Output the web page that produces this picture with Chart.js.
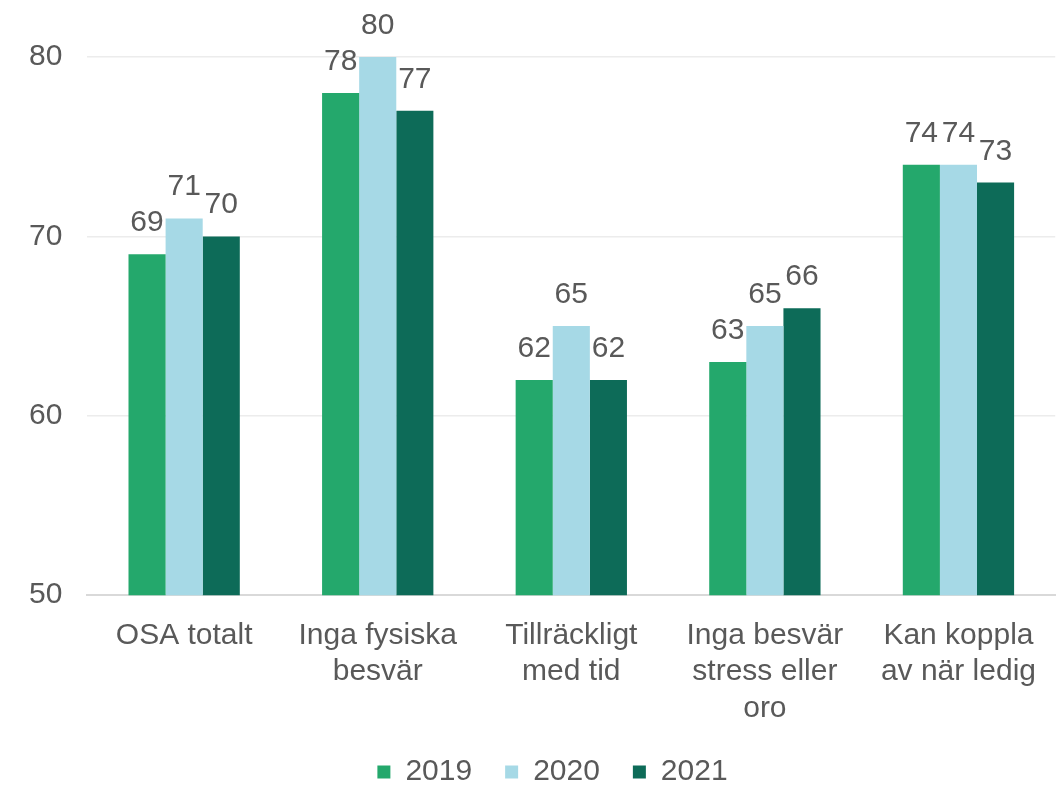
<!DOCTYPE html>
<html>
<head>
<meta charset="utf-8">
<script src="https://cdn.jsdelivr.net/npm/chart.js@4.4.1/dist/chart.umd.min.js"></script>
<style>
  html, body { margin: 0; padding: 0; background: #ffffff; }
  #wrap { width: 1058px; height: 787px; position: relative; }
</style>
</head>
<body>
<div id="wrap"><canvas id="c"></canvas></div>
<script>
const categories = [
  ["OSA totalt"],
  ["Inga fysiska", "besvär"],
  ["Tillräckligt", "med tid"],
  ["Inga besvär", "stress eller", "oro"],
  ["Kan koppla", "av när ledig"]
];
const seriesNames = ["2019", "2020", "2021"];
const values2019 = [69, 78, 62, 63, 74];
const values2020 = [71, 80, 65, 65, 74];
const values2021 = [70, 77, 62, 66, 73];
const yTicks = [50, 60, 70, 80];
const colors = ["#24a86c", "#a6d9e6", "#0d6b58"];

const FONT = "'Liberation Sans', Arial, sans-serif";
const TEXT = "#595959";

const valueLabels = {
  id: 'valueLabels',
  afterDatasetsDraw(chart) {
    const ctx = chart.ctx;
    ctx.save();
    ctx.font = "30px " + FONT;
    ctx.fillStyle = TEXT;
    ctx.textAlign = 'center';
    ctx.textBaseline = 'alphabetic';
    chart.data.datasets.forEach((ds, i) => {
      const meta = chart.getDatasetMeta(i);
      meta.data.forEach((bar, j) => {
        ctx.fillText(String(ds.data[j]), bar.x, bar.y - 23);
      });
    });
    ctx.restore();
  }
};

const legendShift = {
  id: 'legendShift',
  afterLayout(chart) {
    if (chart.legend) {
      chart.legend.left += 34;
      chart.legend.right += 34;
    }
  }
};

new Chart(document.getElementById('c'), {
  type: 'bar',
  data: {
    labels: categories,
    datasets: [
      { label: seriesNames[0], data: values2019, backgroundColor: colors[0] },
      { label: seriesNames[1], data: values2020, backgroundColor: colors[1] },
      { label: seriesNames[2], data: values2021, backgroundColor: colors[2] }
    ]
  },
  options: {
    responsive: true,
    maintainAspectRatio: false,
    animation: false,
    devicePixelRatio: 1,
    datasets: { bar: { categoryPercentage: 0.575, barPercentage: 1.0 } },
    layout: { padding: { top: 57, left: 4, right: 0, bottom: -10 } },
    scales: {
      x: {
        grid: { display: false, drawTicks: false },
        border: { display: true, color: '#d9d9d9', width: 2 },
        ticks: {
          color: TEXT,
          font: { family: FONT, size: 30, lineHeight: 1.22 },
          padding: 22,
          maxRotation: 0,
          autoSkip: false
        }
      },
      y: {
        min: 50, max: 80,
        afterBuildTicks(axis) { axis.ticks = yTicks.map(v => ({ value: v })); },
        grid: { color: '#ececec', lineWidth: 1.5, drawTicks: false },
        border: { display: false },
        ticks: {
          color: TEXT,
          font: { family: FONT, size: 30 },
          padding: 25
        }
      }
    },
    plugins: {
      legend: {
        position: 'bottom',
        labels: {
          color: TEXT,
          font: { family: FONT, size: 30 },
          boxWidth: 13, boxHeight: 13,
          padding: 8,
          generateLabels(chart) {
            const items = Chart.defaults.plugins.legend.labels.generateLabels(chart);
            items.forEach(it => { it.text = it.text + '   '; });
            return items;
          }
        }
      },
      tooltip: { enabled: false }
    }
  },
  plugins: [valueLabels, legendShift]
});
</script>
</body>
</html>
